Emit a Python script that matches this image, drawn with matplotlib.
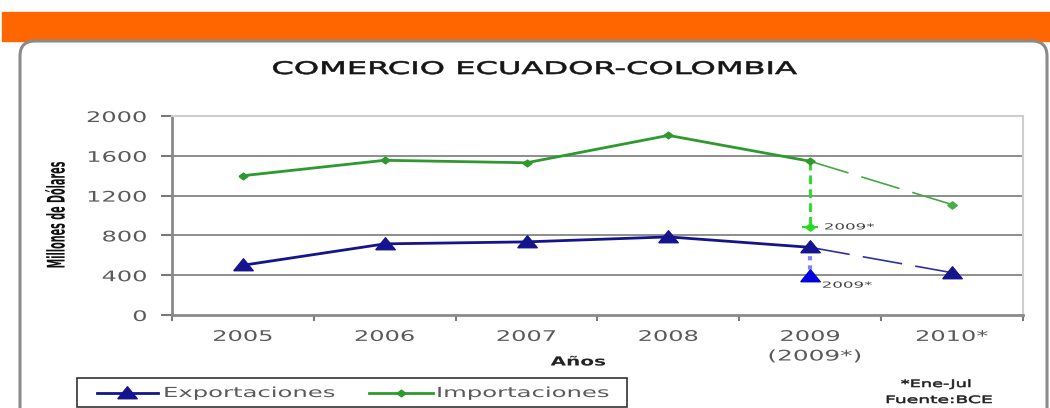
import matplotlib
matplotlib.use("Agg")
import matplotlib.pyplot as plt
from matplotlib.patches import Rectangle, FancyBboxPatch
from matplotlib.lines import Line2D
from matplotlib.patheffects import AbstractPathEffect
from matplotlib.transforms import Affine2D

# ---- data ----
years = ["2005", "2006", "2007", "2008", "2009", "2010*"]
exportaciones = [500, 715, 735, 785, 680, 425]
importaciones = [1400, 1555, 1530, 1805, 1545, 1110]
exp_2009_parcial = 395
imp_2009_parcial = 885
y_ticks = [0, 400, 800, 1200, 1600, 2000]
series_names = ["Exportaciones", "Importaciones"]


class Stretch(AbstractPathEffect):
    """Draw text glyphs scaled in the text's own frame (text stays a Text)."""

    def __init__(self, sx=1.0, sy=1.0, pivot="center", lw=0.0):
        super().__init__()
        self.sx, self.sy, self.pivot, self.lw = sx, sy, pivot, lw

    def draw_path(self, renderer, gc, tpath, affine, rgbFace=None):
        ext = tpath.get_extents()
        if self.pivot == "left":
            px = ext.x0
        elif self.pivot == "right":
            px = ext.x1
        else:
            px = 0.5 * (ext.x0 + ext.x1)
        py = 0.5 * (ext.y0 + ext.y1)
        t = Affine2D().translate(-px, -py).scale(self.sx, self.sy).translate(px, py) + affine
        if self.lw > 0 and rgbFace is not None:
            gc0 = renderer.new_gc()
            gc0.copy_properties(gc)
            gc0.set_linewidth(self.lw)
            gc0.set_foreground(rgbFace)
            renderer.draw_path(gc0, tpath, t, rgbFace)
            gc0.restore()
        else:
            renderer.draw_path(gc, tpath, t, rgbFace)


W, H = 1050, 408
fig = plt.figure(figsize=(W / 100, H / 100), dpi=100)
fig.patch.set_facecolor("white")

# orange banner
fig.add_artist(Rectangle((2 / W, (H - 41) / H), 1048 / W, 29 / H,
                         transform=fig.transFigure, color="#FF6600", zorder=-2))
# rounded chart frame
fig.add_artist(FancyBboxPatch((0.20, -0.3), 10.27, 3.97,
                              boxstyle="round,pad=0,rounding_size=0.15",
                              transform=fig.dpi_scale_trans, fc="white",
                              ec="#8a8a8a", lw=2.2, zorder=-1))

ax = fig.add_axes([172 / W, 93 / H, 851 / W, 199 / H])
ax.set_facecolor("white")
x = list(range(len(years)))

navy = "#14148C"
green = "#2E9A2E"
tri = [(-1.3, -0.7), (1.3, -0.7), (0, 0.9), (-1.3, -0.7)]
dia = [(-1, 0), (0, 0.75), (1, 0), (0, -0.75), (-1, 0)]

# grid
for v in y_ticks[1:-1]:
    ax.axhline(v, color="#7a7a7a", lw=1.2, zorder=1)

# exportaciones
ax.plot(x[:5], exportaciones[:5], color=navy, lw=2, marker=tri, ms=14, zorder=4)
ax.plot(x[4:], exportaciones[4:], color="#3030A0", lw=1.2, dashes=(24, 8), zorder=3)
ax.plot([x[5]], [exportaciones[5]], color=navy, marker=tri, ms=14, ls="none", zorder=4)
ax.plot([x[4], x[4]], [exportaciones[4], exp_2009_parcial], color="#8080FF",
        lw=3, ls=(0, (1, 1.2)), zorder=3)
ax.plot([x[4]], [exp_2009_parcial], color="#0000E0", marker=tri, ms=14, ls="none", zorder=4)

# importaciones
ax.plot(x[:5], importaciones[:5], color=green, lw=2, marker=dia, ms=6.5, zorder=4)
ax.plot(x[4:], importaciones[4:], color="#45A845", lw=1.2, dashes=(24, 8), zorder=3)
ax.plot([x[5]], [importaciones[5]], color="#45B045", marker=dia, ms=7, ls="none", zorder=4)
ax.plot([x[4], x[4]], [importaciones[4], imp_2009_parcial], color="#22DD22",
        lw=2, dashes=(3.2, 1.8), zorder=3)
ax.plot([x[4] - 0.05, x[4] + 0.05], [imp_2009_parcial] * 2, color="#22DD22",
        lw=1.5, zorder=4)
ax.plot([x[4]], [imp_2009_parcial], color="#22DD22", marker=dia, ms=7, ls="none", zorder=4)

small = dict(fontsize=6, color="#444444", va="center", ha="left",
             path_effects=[Stretch(2.0, 1.0, "left")])
ax.text(4.1, imp_2009_parcial, "2009*", **small)
ax.text(4.085, 300, "2009*", **small)

ax.set_xlim(-0.5, 5.5)
ax.set_ylim(0, 2000)
ax.set_yticks(y_ticks)
ax.set_yticklabels([str(v) for v in y_ticks])
ax.set_xticks([i + 0.5 for i in range(-1, 6)])
ax.set_xticklabels([])
ax.set_xticks(x, minor=True)
ax.set_xticklabels(years, minor=True)
ax.tick_params(axis="x", which="major", direction="out", length=4, color="#7a7a7a", width=1.5)
ax.tick_params(axis="x", which="minor", length=0, pad=10, labelsize=10.5, labelcolor="#5a5a5a")
ax.tick_params(axis="y", direction="out", length=8, color="#7a7a7a", width=1.5,
               labelsize=10.5, labelcolor="#5a5a5a", pad=10)
for lab in ax.get_xticklabels(minor=True):
    lab.set_path_effects([Stretch(1.65, 1.0, "center")])
for lab in ax.get_yticklabels():
    lab.set_path_effects([Stretch(1.65, 1.0, "right")])
for s in ["left", "bottom"]:
    ax.spines[s].set_color("#8a8a8a")
    ax.spines[s].set_linewidth(2)
for s in ["top", "right"]:
    ax.spines[s].set_color("#cfcfcf")
    ax.spines[s].set_linewidth(1.5)

# texts
fig.text(535 / W, (H - 69) / H, "COMERCIO ECUADOR-COLOMBIA", ha="center", va="center",
         fontsize=12.5, color="#151515", path_effects=[Stretch(1.85, 1.0, "center", lw=0.45)])
fig.text(56 / W, (H - 215) / H, "Millones de Dólares", rotation=90, ha="center",
         va="center", fontsize=7.3, fontweight="bold", color="#111111",
         path_effects=[Stretch(0.95, 2.4, "center")])
fig.text(578 / W, (H - 362) / H, "Años", ha="center", va="center", fontsize=9,
         fontweight="bold", color="#222222", path_effects=[Stretch(1.6, 1.0, "center")])
fig.text(815 / W, (H - 356) / H, "(2009*)", ha="center", va="center", fontsize=10.5,
         color="#5a5a5a", path_effects=[Stretch(1.7, 1.0, "center")])
fig.text(936 / W, (H - 384) / H, "*Ene-Jul", ha="center", va="center", fontsize=7.3,
         color="#222222", path_effects=[Stretch(1.75, 1.0, "center", lw=0.4)])
fig.text(939 / W, (H - 400) / H, "Fuente:BCE", ha="center", va="center", fontsize=7.3,
         color="#222222", path_effects=[Stretch(1.85, 1.0, "center", lw=0.4)])

# legend (drawn by hand so the stretched labels fit)
ly = (H - 393) / H
fig.add_artist(Rectangle((77 / W, (H - 407) / H), 550 / W, 29 / H, transform=fig.transFigure,
                         fc="white", ec="#333333", lw=1.2, zorder=2))
fig.add_artist(Line2D([97 / W, 158 / W], [ly, ly], transform=fig.transFigure,
                      color=navy, lw=2, zorder=3))
fig.add_artist(Line2D([127 / W], [ly], transform=fig.transFigure, color=navy,
                      marker=tri, ms=14, ls="none", zorder=3))
fig.add_artist(Line2D([369 / W, 433 / W], [ly, ly], transform=fig.transFigure,
                      color=green, lw=2, zorder=3))
fig.add_artist(Line2D([401 / W], [ly], transform=fig.transFigure, color=green,
                      marker=dia, ms=6.5, ls="none", zorder=3))
fig.text(164 / W, ly, series_names[0], ha="left", va="center", fontsize=10,
         color="#5a5a5a", zorder=3, path_effects=[Stretch(1.75, 1.0, "left")])
fig.text(437 / W, ly, series_names[1], ha="left", va="center", fontsize=10,
         color="#5a5a5a", zorder=3, path_effects=[Stretch(1.75, 1.0, "left")])

fig.savefig("out.png", dpi=100)
